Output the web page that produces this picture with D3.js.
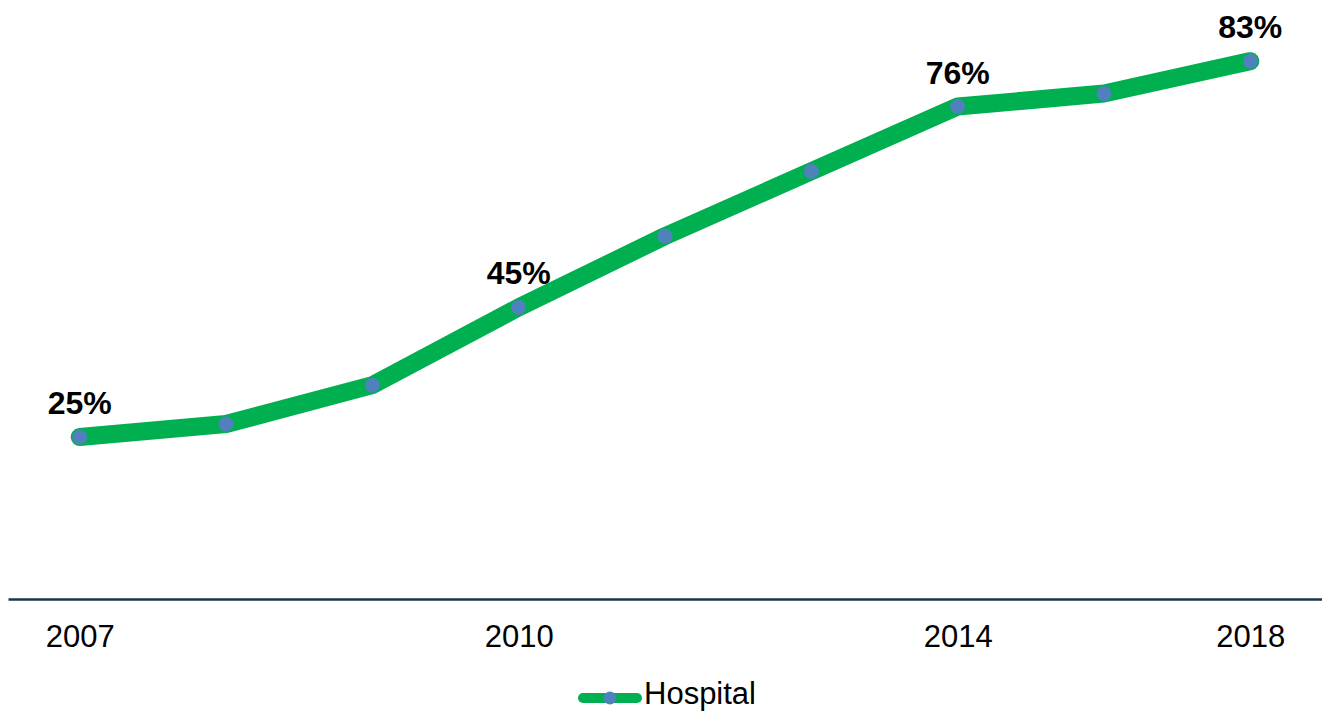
<!DOCTYPE html>
<html>
<head>
<meta charset="utf-8">
<script src="https://cdn.jsdelivr.net/npm/d3@7"></script>
<style>
  html, body { margin: 0; padding: 0; background: #fff; }
  svg { display: block; font-family: "Liberation Sans", Arial, sans-serif; }
</style>
</head>
<body>
<svg id="chart" width="1322" height="713"></svg>
<script>
// ---- data ----
const categories = ["2007", "", "", "2010", "", "", "2014", "", "2018"];
const seriesName = "Hospital";
const values = [25, 27, 33, 45, 56, 66, 76, 78, 83];
const labelled = [true, false, false, true, false, false, true, false, true];

// ---- setup ----
const W = 1322, H = 713;
const svg = d3.select("#chart");
const green = "#00B050", dotColor = "#4F81BD", axisColor = "#1F3347";

const x = d3.scalePoint()
  .domain(d3.range(categories.length))
  .range([8, 1322])
  .padding(0.49);

const y = d3.scaleLinear()
  .domain([0, 100])
  .range([599, -49]);

// axis
const xAxis = d3.axisBottom(x)
  .tickSizeInner(0).tickSizeOuter(0)
  .tickFormat(i => categories[i]);

const gx = svg.append("g")
  .attr("transform", `translate(0,${y(0)})`)
  .call(xAxis);
gx.select(".domain").attr("stroke", axisColor).attr("stroke-width", 2.5);
gx.selectAll(".tick text")
  .attr("y", 48).attr("dy", 0)
  .attr("font-size", 31)
  .attr("font-family", "Liberation Sans, Arial, sans-serif")
  .attr("fill", "#000");

// line
const line = d3.line()
  .x((d, i) => x(i))
  .y(d => y(d));

svg.append("path")
  .datum(values)
  .attr("d", line)
  .attr("fill", "none")
  .attr("stroke", green)
  .attr("stroke-width", 18)
  .attr("stroke-linecap", "round")
  .attr("stroke-linejoin", "round");

// markers
svg.selectAll("circle.pt")
  .data(values)
  .join("circle")
  .attr("class", "pt")
  .attr("cx", (d, i) => x(i))
  .attr("cy", d => y(d))
  .attr("r", 7.5)
  .attr("fill", dotColor);

// data labels
svg.selectAll("text.lbl")
  .data(values.map((v, i) => ({ v, i })).filter(d => labelled[d.i]))
  .join("text")
  .attr("class", "lbl")
  .attr("x", d => x(d.i))
  .attr("y", d => y(d.v) - 23)
  .attr("text-anchor", "middle")
  .attr("font-size", 32)
  .attr("font-weight", "bold")
  .attr("fill", "#000")
  .text(d => d.v + "%");

// legend
const lg = svg.append("g").attr("transform", "translate(610,698)");
lg.append("line")
  .attr("x1", -27).attr("x2", 27)
  .attr("stroke", green).attr("stroke-width", 10)
  .attr("stroke-linecap", "round");
lg.append("circle").attr("r", 6.5).attr("fill", dotColor);
lg.append("text")
  .attr("x", 34).attr("y", 6)
  .attr("font-size", 31)
  .attr("fill", "#000")
  .text(seriesName);
</script>
</body>
</html>
